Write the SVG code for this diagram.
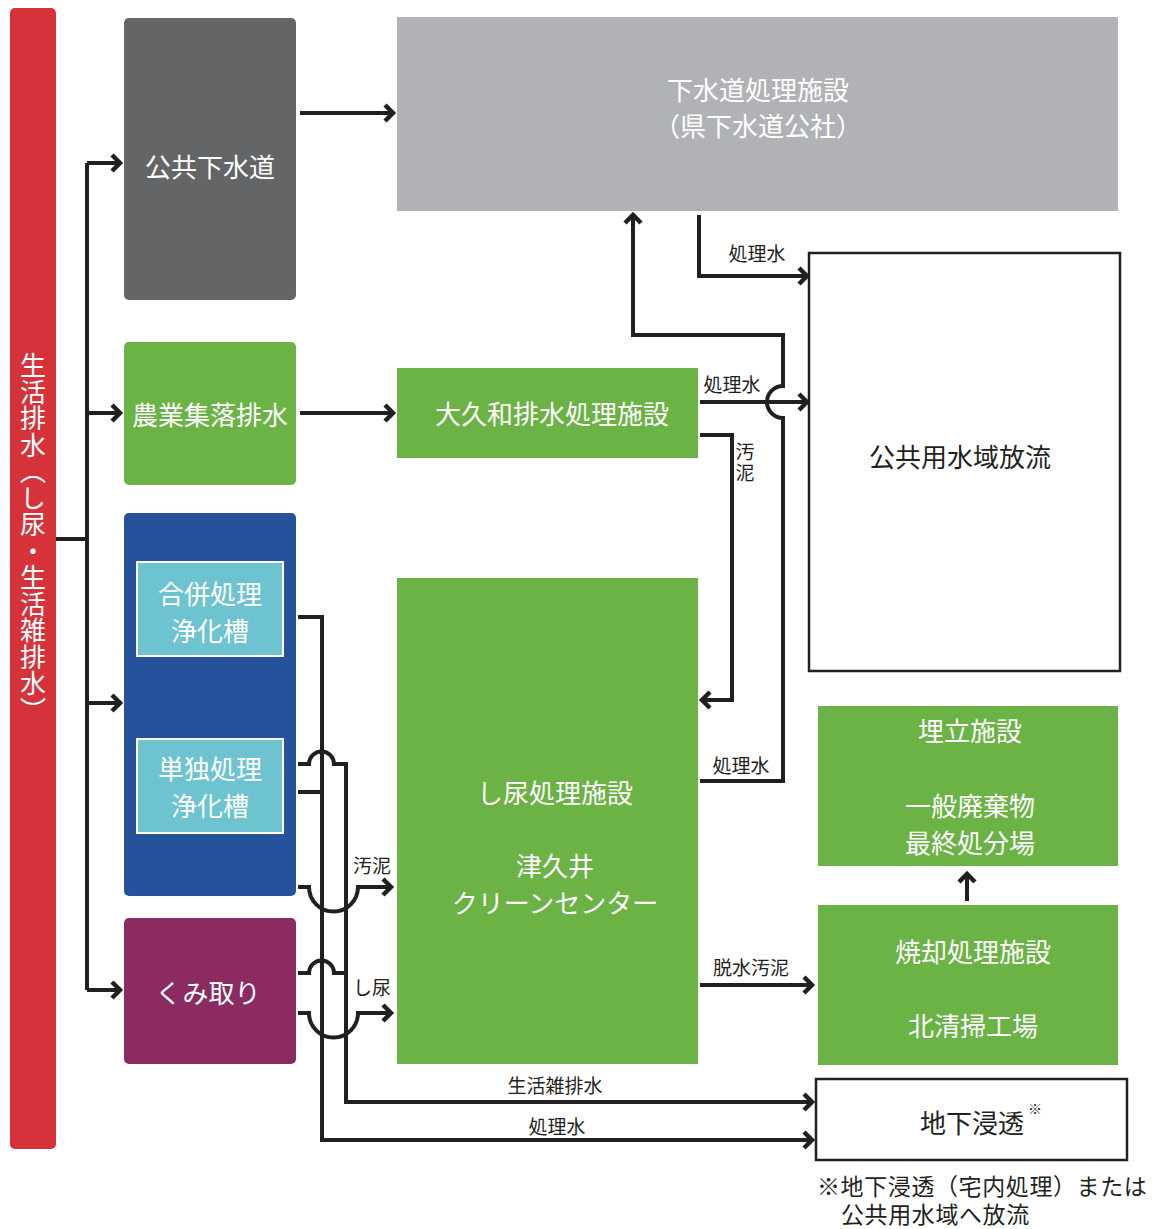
<svg xmlns="http://www.w3.org/2000/svg" width="1156" height="1229" viewBox="0 0 1156 1229">
<style>
text{font-family:"Noto Sans CJK JP","Noto Sans",sans-serif;}
.w{fill:#ffffff;font-size:26px;text-anchor:middle;dominant-baseline:central;}
.k{fill:#231f20;font-size:26px;text-anchor:middle;dominant-baseline:central;}
.s{fill:#231f20;font-size:19px;text-anchor:middle;dominant-baseline:central;}
.ln{fill:none;stroke:#231f20;stroke-width:4;stroke-linejoin:miter;}
.arr{marker-end:url(#ah);}
.green{fill:#6ab344;}
</style>
<defs>
<marker id="ah" markerUnits="userSpaceOnUse" markerWidth="24" markerHeight="24" refX="14" refY="12" orient="auto" viewBox="0 0 24 24">
<path d="M6,4 L14,12 L6,20" fill="none" stroke="#231f20" stroke-width="4.5" stroke-linejoin="miter"/>
</marker>
</defs>
<rect width="1156" height="1229" fill="#ffffff"/>

<g id="source">
<rect x="10" y="8" width="46" height="1141" rx="5" fill="#d6323a"/>
<text x="33" y="538" fill="#ffffff" font-size="26" letter-spacing="0.5" text-anchor="middle" style="writing-mode:vertical-rl;">生活排水（し尿・生活雑排水）</text>
</g>

<g id="kokyo-gesuido">
<rect x="124" y="18" width="172" height="282" rx="5" fill="#636567"/>
<text class="w" x="210" y="165">公共下水道</text>
</g>

<g id="gesuido-shori">
<rect x="397" y="17" width="721" height="194" fill="#b1b2b5"/>
<text class="w" x="758" y="88">下水道処理施設</text>
<text class="w" x="758" y="124">（県下水道公社）</text>
</g>

<g id="nogyo">
<rect x="124" y="342" width="172" height="143" rx="5" class="green"/>
<text class="w" x="210" y="413">農業集落排水</text>
</g>

<g id="okuwa">
<rect x="397" y="368" width="301" height="90" class="green"/>
<text class="w" x="552" y="412">大久和排水処理施設</text>
</g>

<g id="jokaso">
<rect x="124" y="513" width="172" height="383" rx="5" fill="#26519b"/>
<g id="gappei">
<rect x="137" y="562" width="146" height="94" fill="#6dc3cf" stroke="#ffffff" stroke-width="2"/>
<text class="w" x="210" y="592">合併処理</text>
<text class="w" x="210" y="629">浄化槽</text>
</g>
<g id="tandoku">
<rect x="137" y="739" width="146" height="94" fill="#6dc3cf" stroke="#ffffff" stroke-width="2"/>
<text class="w" x="210" y="767">単独処理</text>
<text class="w" x="210" y="804">浄化槽</text>
</g>
</g>

<g id="kumitori">
<rect x="124" y="918" width="172" height="146" rx="5" fill="#8c2a62"/>
<text class="w" x="208" y="991">くみ取り</text>
</g>

<g id="shinyo">
<rect x="397" y="578" width="301" height="486" class="green"/>
<text class="w" x="555" y="791">し尿処理施設</text>
<text class="w" x="555" y="864">津久井</text>
<text class="w" x="555" y="901">クリーンセンター</text>
</g>

<g id="kokyo-suiiki">
<rect x="809" y="253" width="311" height="418" fill="#ffffff" stroke="#231f20" stroke-width="2.5"/>
<text class="k" x="960" y="455">公共用水域放流</text>
</g>

<g id="umetate">
<rect x="818" y="706" width="300" height="160" class="green"/>
<text class="w" x="970" y="729">埋立施設</text>
<text class="w" x="970" y="804">一般廃棄物</text>
<text class="w" x="970" y="841">最終処分場</text>
</g>

<g id="shokyaku">
<rect x="818" y="905" width="300" height="160" class="green"/>
<text class="w" x="973" y="950">焼却処理施設</text>
<text class="w" x="973" y="1024">北清掃工場</text>
</g>

<g id="chika">
<rect x="816" y="1079" width="311" height="81" fill="#ffffff" stroke="#231f20" stroke-width="2.5"/>
<text class="k" x="972" y="1121">地下浸透</text>
<text x="1035" y="1108" fill="#231f20" font-size="14" text-anchor="middle" dominant-baseline="central">※</text>
</g>

<g id="note">
<text fill="#231f20" font-size="23" letter-spacing="0.6" dominant-baseline="central"><tspan x="817" y="1185">※地下浸透（宅内処理）または</tspan><tspan x="841" y="1213">公共用水域へ放流</tspan></text>
</g>

<g id="connectors">
<path class="ln" d="M56,539 H87"/>
<path class="ln" d="M87,163 V990"/>
<path class="ln arr" d="M87,163 H120"/>
<path class="ln arr" d="M87,413 H120"/>
<path class="ln arr" d="M87,703 H120"/>
<path class="ln arr" d="M87,990 H120"/>

<path class="ln arr" d="M300,113 H393"/>
<path class="ln arr" d="M300,413 H393"/>

<path class="ln arr" d="M699,215 V276 H807"/>
<path class="ln arr" d="M700,402 H807"/>
<path class="ln arr" d="M700,781 H783 V418 A16,16 0 0 1 783,386 V335 H633 V215"/>
<path class="ln arr" d="M700,435 H732 V700 H702"/>
<path class="ln arr" d="M700,985 H812"/>
<path class="ln arr" d="M967,901 V874"/>

<path class="ln arr" d="M298,617 H322 V1140 H812"/>
<path class="ln arr" d="M298,764 H309 A12.5,12.5 0 0 1 334,764 H346 V1102 H812"/>
<path class="ln" d="M298,792 H322"/>
<path class="ln arr" d="M298,887 H309 A24.5,24.5 0 0 0 358,887 H391"/>
<path class="ln" d="M298,973 H309 A12.5,12.5 0 0 1 334,973 H346"/>
<path class="ln arr" d="M298,1013 H309 A24.5,24.5 0 0 0 358,1013 H391"/>

<text class="s" x="757" y="252">処理水</text>
<text class="s" x="732" y="383">処理水</text>
<text x="745" y="463" fill="#231f20" font-size="19" letter-spacing="2" text-anchor="middle" style="writing-mode:vertical-rl;">汚泥</text>
<text class="s" x="741" y="764">処理水</text>
<text class="s" x="751" y="966">脱水汚泥</text>
<text class="s" x="372" y="864">汚泥</text>
<text class="s" x="372" y="986">し尿</text>
<text class="s" x="555" y="1084">生活雑排水</text>
<text class="s" x="557" y="1125">処理水</text>
</g>
</svg>
